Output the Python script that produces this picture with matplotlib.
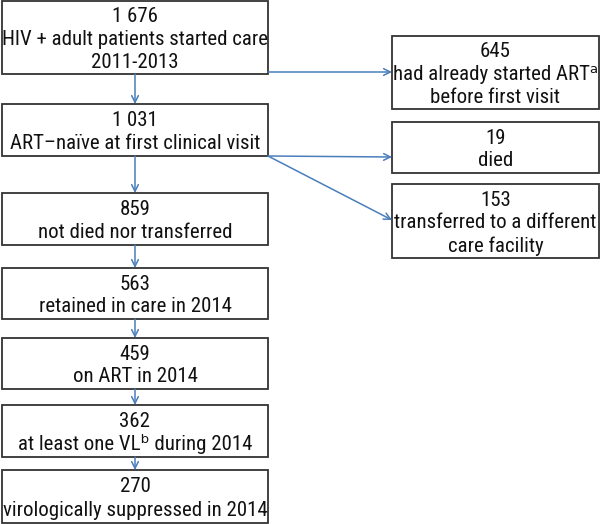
import matplotlib.pyplot as plt
from matplotlib.patches import Rectangle

plt.rcParams['font.family'] = ['Roboto Condensed', 'DejaVu Sans']

# main cascade (left column)
main_counts = ["1 676", "1 031", "859", "563", "459", "362", "270"]
main_labels = [
    "HIV + adult patients started care\n2011-2013",
    "ART\u2013naïve at first clinical visit",
    "not died nor transferred",
    "retained in care in 2014",
    "on ART in 2014",
    "at least one VL\u1d47 during 2014",
    "virologically suppressed in 2014",
]
# exclusions (right column)
side_counts = ["645", "19", "153"]
side_labels = [
    "had already started ART\u1d43\nbefore first visit",
    "died",
    "transferred to a different\ncare facility",
]

# layout in pixels (top, bottom)
main_y = [(1, 74), (104, 156), (193, 245), (268, 319), (338, 389), (405, 457), (470, 523)]
main_x = (2, 268)
side_y = [(36, 109), (122, 173), (184, 258)]
side_x = (392, 599)
arrow_from_y = [72, 156, 156]
arrow_to_y = [72, 157, 220]

blue = "#4a7ebb"
fs = 15
line_h = 23
base_off = 7.5

fig = plt.figure(figsize=(6, 5.24), dpi=100)
ax = fig.add_axes([0, 0, 1, 1])
ax.set_xlim(0, 600)
ax.set_ylim(524, 0)
ax.axis("off")


def draw_box(x0, x1, y0, y1, count, label):
    ax.add_patch(Rectangle((x0, y0), x1 - x0, y1 - y0, fill=False,
                           edgecolor="#333333", linewidth=1.3))
    lines = [count] + label.split("\n")
    n = len(lines)
    cy = (y0 + y1) / 2
    for k, s in enumerate(lines):
        yb = cy + (k - (n - 1) / 2) * line_h + base_off
        ax.text((x0 + x1) / 2, yb, s, ha="center", va="baseline",
                fontsize=fs, color="#111111")


for (y0, y1), c, l in zip(main_y, main_counts, main_labels):
    draw_box(main_x[0], main_x[1], y0, y1, c, l)

for (y0, y1), c, l in zip(side_y, side_counts, side_labels):
    draw_box(side_x[0], side_x[1], y0, y1, c, l)

# vertical arrows between main boxes
cx = (main_x[0] + main_x[1]) / 2
for i in range(len(main_y) - 1):
    ax.annotate("", xy=(cx, main_y[i + 1][0]), xytext=(cx, main_y[i][1]),
                arrowprops=dict(arrowstyle="->", color=blue, lw=1.1,
                                shrinkA=0, shrinkB=0, mutation_scale=12))

# arrows to exclusion boxes
for i in range(len(side_y)):
    ax.annotate("", xy=(side_x[0], arrow_to_y[i]), xytext=(main_x[1], arrow_from_y[i]),
                arrowprops=dict(arrowstyle="->", color=blue, lw=1.1,
                                shrinkA=0, shrinkB=0, mutation_scale=12))

fig.savefig("out.png", dpi=100)
